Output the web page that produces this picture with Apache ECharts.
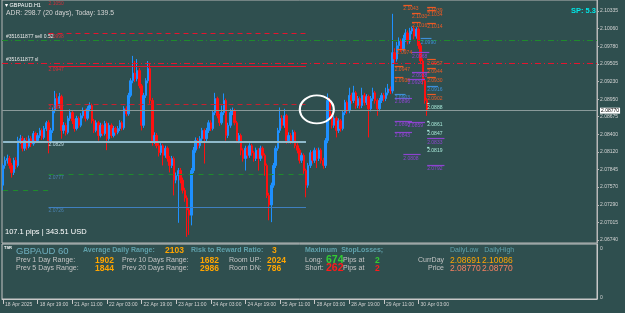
<!DOCTYPE html>
<html><head><meta charset="utf-8">
<script src="https://cdn.jsdelivr.net/npm/echarts@6/dist/echarts.min.js"></script>
<style>html,body{margin:0;padding:0;background:#2F4F4F;}#c{width:625px;height:313px;}</style>
</head><body><div id="c"></div>
<script>
// ---------- DATA ----------
const opens = [2.0760,2.0791,2.0799,2.0802,2.0791,2.0780,2.0799,2.0791,2.0830,2.0833,
2.0818,2.0830,2.0821,2.0833,2.0825,2.0841,2.0830,2.0838,2.0846,2.0835,
2.0849,2.0858,2.0830,2.0846,2.0877,2.0896,2.0885,2.0899,2.0846,2.0854,
2.0843,2.0865,2.0874,2.0861,2.0849,2.0865,2.0854,2.0869,2.0877,2.0865,
2.0880,2.0885,2.0861,2.0846,2.0858,2.0838,2.0854,2.0841,2.0857,2.0833,
2.0854,2.0838,2.0849,2.0843,2.0849,2.0858,2.0850,2.0880,2.0872,2.0901,
2.0924,2.0936,2.0927,2.0940,2.0916,2.0854,2.0901,2.0924,2.0943,2.0893,
2.0830,2.0838,2.0822,2.0811,2.0822,2.0807,2.0818,2.0802,2.0791,2.0802,
2.0768,2.0775,2.0783,2.0768,2.0752,2.0740,2.0721,2.0713,2.0783,2.0815,
2.0830,2.0822,2.0833,2.0846,2.0833,2.0846,2.0858,2.0849,2.0874,2.0896,
2.0869,2.0858,2.0874,2.0893,2.0838,2.0854,2.0874,2.0877,2.0858,2.0830,
2.0838,2.0815,2.0802,2.0818,2.0807,2.0822,2.0811,2.0802,2.0815,2.0802,
2.0818,2.0807,2.0791,2.0744,2.0729,2.0760,2.0791,2.0818,2.0846,2.0865,
2.0854,2.0869,2.0830,2.0838,2.0830,2.0843,2.0822,2.0815,2.0799,2.0807,
2.0783,2.0760,2.0791,2.0811,2.0799,2.0815,2.0802,2.0815,2.0799,2.0791,
2.0830,2.0893,2.0869,2.0854,2.0865,2.0846,2.0861,2.0849,2.0874,2.0890,
2.0877,2.0901,2.0893,2.0905,2.0885,2.0896,2.0885,2.0901,2.0890,2.0899,
2.0880,2.0896,2.0905,2.0893,2.0880,2.0893,2.0901,2.0896,2.0905,2.0911,
2.0908,2.0968,2.0958,2.0979,2.0986,2.0974,2.0990,2.0999,2.0986,2.1002,
2.1006,2.0994,2.1005,2.0979,2.0955,2.0924,2.0893];
const closes = [2.0791,2.0799,2.0802,2.0791,2.0780,2.0799,2.0791,2.0830,2.0833,2.0818,
2.0830,2.0821,2.0833,2.0825,2.0841,2.0830,2.0838,2.0846,2.0835,2.0849,
2.0858,2.0830,2.0846,2.0877,2.0896,2.0885,2.0899,2.0846,2.0854,2.0843,
2.0865,2.0874,2.0861,2.0849,2.0865,2.0854,2.0869,2.0877,2.0865,2.0880,
2.0885,2.0861,2.0846,2.0858,2.0838,2.0854,2.0841,2.0857,2.0833,2.0854,
2.0838,2.0849,2.0843,2.0849,2.0858,2.0850,2.0880,2.0872,2.0901,2.0924,
2.0936,2.0927,2.0940,2.0916,2.0854,2.0901,2.0924,2.0943,2.0893,2.0830,
2.0838,2.0822,2.0811,2.0822,2.0807,2.0818,2.0802,2.0791,2.0802,2.0768,
2.0775,2.0783,2.0768,2.0752,2.0740,2.0721,2.0713,2.0783,2.0815,2.0830,
2.0822,2.0833,2.0846,2.0833,2.0846,2.0858,2.0849,2.0874,2.0896,2.0869,
2.0858,2.0874,2.0893,2.0838,2.0854,2.0874,2.0877,2.0858,2.0830,2.0838,
2.0815,2.0802,2.0818,2.0807,2.0822,2.0811,2.0802,2.0815,2.0802,2.0818,
2.0807,2.0791,2.0744,2.0729,2.0760,2.0791,2.0818,2.0846,2.0865,2.0854,
2.0869,2.0830,2.0838,2.0830,2.0843,2.0822,2.0815,2.0799,2.0807,2.0783,
2.0760,2.0791,2.0811,2.0799,2.0815,2.0802,2.0815,2.0799,2.0791,2.0830,
2.0893,2.0869,2.0854,2.0865,2.0846,2.0861,2.0849,2.0874,2.0890,2.0877,
2.0901,2.0893,2.0905,2.0885,2.0896,2.0885,2.0901,2.0890,2.0899,2.0880,
2.0896,2.0905,2.0893,2.0880,2.0893,2.0901,2.0896,2.0905,2.0911,2.0908,
2.0968,2.0958,2.0979,2.0986,2.0974,2.0990,2.0999,2.0986,2.1002,2.1006,
2.0994,2.1005,2.0979,2.0955,2.0924,2.0893,2.0877];
const lows = [2.0752,2.0786,2.0794,2.0786,2.0772,2.0776,2.0785,2.0788,2.0825,2.0813,
2.0814,2.0815,2.0818,2.0820,2.0822,2.0826,2.0827,2.0834,2.0831,2.0832,
2.0845,2.0810,2.0826,2.0842,2.0873,2.0880,2.0881,2.0833,2.0841,2.0838,
2.0840,2.0861,2.0856,2.0844,2.0846,2.0850,2.0851,2.0865,2.0860,2.0862,
2.0876,2.0857,2.0842,2.0843,2.0830,2.0835,2.0837,2.0838,2.0815,2.0830,
2.0834,2.0835,2.0838,2.0840,2.0845,2.0846,2.0847,2.0868,2.0869,2.0898,
2.0920,2.0922,2.0923,2.0912,2.0846,2.0850,2.0897,2.0920,2.0888,2.0822,
2.0825,2.0818,2.0805,2.0807,2.0791,2.0803,2.0797,2.0780,2.0787,2.0744,
2.0763,2.0701,2.0763,2.0747,2.0734,2.0679,2.0682,2.0697,2.0779,2.0811,
2.0817,2.0818,2.0829,2.0794,2.0829,2.0842,2.0845,2.0846,2.0870,2.0865,
2.0853,2.0855,2.0870,2.0830,2.0834,2.0850,2.0870,2.0854,2.0826,2.0826,
2.0807,2.0797,2.0783,2.0802,2.0803,2.0806,2.0797,2.0798,2.0783,2.0798,
2.0802,2.0775,2.0740,2.0705,2.0702,2.0756,2.0787,2.0814,2.0842,2.0849,
2.0850,2.0825,2.0826,2.0825,2.0826,2.0818,2.0810,2.0794,2.0795,2.0778,
2.0741,2.0756,2.0787,2.0794,2.0795,2.0787,2.0798,2.0794,2.0786,2.0787,
2.0826,2.0864,2.0849,2.0850,2.0835,2.0842,2.0844,2.0846,2.0870,2.0872,
2.0873,2.0888,2.0889,2.0880,2.0881,2.0880,2.0881,2.0885,2.0886,2.0835,
2.0876,2.0892,2.0888,2.0869,2.0876,2.0889,2.0891,2.0892,2.0901,2.0903,
2.0904,2.0952,2.0954,2.0974,2.0969,2.0970,2.0985,2.0981,2.0982,2.0997,
2.0989,2.0990,2.0974,2.0950,2.0918,2.0888,2.0869];
const highs = [2.0794,2.0805,2.0808,2.0806,2.0795,2.0803,2.0804,2.0836,2.0839,2.0837,
2.0834,2.0835,2.0838,2.0837,2.0845,2.0844,2.0842,2.0850,2.0849,2.0853,
2.0861,2.0862,2.0850,2.0882,2.0908,2.0904,2.0905,2.0902,2.0859,2.0858,
2.0869,2.0879,2.0877,2.0864,2.0869,2.0868,2.0873,2.0882,2.0880,2.0884,
2.0890,2.0888,2.0864,2.0862,2.0861,2.0858,2.0857,2.0861,2.0860,2.0858,
2.0857,2.0853,2.0852,2.0853,2.0862,2.0861,2.0884,2.0884,2.0905,2.0928,
2.0963,2.0955,2.0958,2.0944,2.0919,2.0905,2.0928,2.0955,2.0951,2.0897,
2.0843,2.0842,2.0826,2.0826,2.0825,2.0822,2.0821,2.0806,2.0806,2.0805,
2.0780,2.0787,2.0787,2.0772,2.0756,2.0744,2.0725,2.0787,2.0820,2.0835,
2.0834,2.0837,2.0850,2.0849,2.0850,2.0862,2.0862,2.0878,2.0905,2.0899,
2.0872,2.0885,2.0904,2.0896,2.0858,2.0880,2.0882,2.0880,2.0861,2.0842,
2.0841,2.0818,2.0822,2.0821,2.0826,2.0825,2.0814,2.0819,2.0818,2.0822,
2.0821,2.0810,2.0794,2.0748,2.0764,2.0795,2.0822,2.0850,2.0882,2.0870,
2.0880,2.0872,2.0843,2.0842,2.0847,2.0846,2.0826,2.0818,2.0811,2.0810,
2.0786,2.0795,2.0815,2.0814,2.0819,2.0818,2.0819,2.0818,2.0803,2.0834,
2.0904,2.0897,2.0872,2.0869,2.0868,2.0865,2.0864,2.0878,2.0894,2.0893,
2.0913,2.0905,2.0916,2.0908,2.0900,2.0899,2.0913,2.0905,2.0903,2.0902,
2.0900,2.0913,2.0908,2.0896,2.0897,2.0905,2.0905,2.0913,2.0919,2.0915,
2.1029,2.0975,2.0985,2.0992,2.0990,2.0996,2.1005,2.1003,2.1007,2.1009,
2.1009,2.1008,2.1008,2.0983,2.0959,2.0928,2.0897];
const futureBars = 78;                 // empty bars (chart shift) to the right
const timeTickBars = [0,16,32,48,64,80,96,112,128,144,160,176,192];
const timeTickLabels = ["18 Apr 2025","18 Apr 19:00","21 Apr 11:00","22 Apr 03:00","22 Apr 19:00","23 Apr 11:00","24 Apr 03:00","24 Apr 19:00","25 Apr 11:00","28 Apr 03:00","28 Apr 19:00","29 Apr 11:00","30 Apr 03:00"];
const priceTicks = [2.10335,2.10060,2.09780,2.09505,2.09230,2.08950,2.08675,2.08400,2.08120,2.07845,2.07570,2.07290,2.07015,2.06740];
const bidPrice = 2.08770;
// weekly levels: R3, R2, R1, PP, S1, S2, S3
const week1Levels = [2.1050, 2.0998, 2.0947, 2.0887, 2.0829, 2.0777, 2.0726];
const week2Levels = [null, 2.1024, 2.0949, 2.0880, 2.0815, 2.0741, null];
const prevWeekS2 = 2.0752;
const weekStarts = [20.5, 139.5];
const orderPrice = 2.0988, orderLabel = "#351611877 sell 0.52";
const slPrice = 2.0952, slLabel = "#351611877 sl";
// small level markers (bar, price, kind)
const markerBars   = [185,196,189,196,189,196,182,196,181,196,181,196,196, 193,181,196, 189,189,187,181,181,187,181,185,196,196, 196,196,196,196];
const markerPrices = [2.1043,2.1039,2.1030,2.1034,2.1016,2.1014,2.0974,2.0957,2.0947,2.0944,2.0930,2.0930,2.0902, 2.0990,2.0903,2.0916, 2.0968,2.0938,2.0926,2.0896,2.0860,2.0859,2.0843,2.0808,2.0833,2.0792, 2.0888,2.0861,2.0847,2.0819];
const markerKinds  = ['o','o','o','o','o','o','o','o','o','o','o','o','o', 'b','b','b', 'p','p','p','p','p','p','p','p','p','p', 'a','a','a','a'];
const circledBar = 144.5, circledPrice = 2.0879;
const adrText = "ADR: 298.7 (20 days), Today: 139.5";
const symbolText = "GBPAUD.H1";
const spreadText = "SP: 5.3";
const pipsText = "107.1 pips | 343.51 USD";
const rangeNames = ["Prev 1 Day Range:", "Prev 5 Days Range:", "Prev 10 Days Range:", "Prev 20 Days Range:"];
const rangeValues = [1902, 1844, 1682, 2986];
const adrValue = 2103, rrValue = 3, roomUp = 2024, roomDn = 786;
const slLong = 674, slShort = 262, slLongAt = 2, slShortAt = 2;
const dayLow = "2.08691", dayHigh = "2.10086", priceLow = "2.08770", priceHigh = "2.08770";

// ---------- BUILD ----------
const nBars = opens.length;
const cats = [];
for (let i = 0; i < nBars + futureBars; i++) cats.push('b' + i);
const candles = cats.map((c, i) => i < nBars ? [opens[i], closes[i], lows[i], highs[i]] : '-');
const tickMap = {}; timeTickBars.forEach((b, k) => tickMap[b] = timeTickLabels[k]);
const isTick = (idx) => tickMap[idx] !== undefined;
const lastEdge = nBars + futureBars - 0.5;

const FONT = 'Liberation Sans, Arial, sans-serif';
const RED = '#E5142E', GREEN = '#1F8B2C', LBLUE = '#8FBACB', SBLUE = '#3F7FBF';
const levelStyles = [
  {color: 'rgba(229,20,46,0)', type: 'solid', width: 1, lab: '#D0303A'},   // R3 lies on the top edge (off view)
  {color: RED, type: [5, 4], width: 1, lab: '#D0303A'},
  {color: RED, type: 'solid', width: 1.2, lab: '#D0303A'},
  {color: '#C8202E', type: [5, 4], width: 1, lab: '#D0303A'},
  {color: LBLUE, type: 'solid', width: 2, lab: '#B8D4DC'},
  {color: GREEN, type: [5, 5], width: 1, lab: '#4A82B0'},
  {color: SBLUE, type: 'solid', width: 1.2, lab: '#4A82B0'}
];
const markerColors = {o: '#EE5A24', p: '#8E44D0', b: '#3D8FD9', a: '#A8E8D8'};
const markerLen = {o: 4, p: 8, b: 5, a: 1};

function seg(p, a, b, st, txt, labColor, pos) {
  return [{coord: [a, p], lineStyle: {color: st.color, type: st.type, width: st.width},
    label: txt ? {show: true, formatter: txt, position: pos || 'insideStartBottom', color: labColor, fontSize: 5, fontFamily: FONT, distance: [0, 1]} : {show: false}},
    {coord: [b, p]}];
}
const mlData = [];
mlData.push(seg(week1Levels[4], -0.5, weekStarts[0], levelStyles[4], null));
mlData.push(seg(prevWeekS2, -0.5, weekStarts[0], levelStyles[5], null));
week1Levels.forEach((p, k) => { if (p != null) mlData.push(seg(p, weekStarts[0], weekStarts[1], levelStyles[k], p.toFixed(4), levelStyles[k].lab)); });
week2Levels.forEach((p, k) => { if (p != null) mlData.push(seg(p, weekStarts[1], lastEdge, levelStyles[k], p.toFixed(4), levelStyles[k].lab)); });
mlData.push({yAxis: orderPrice, lineStyle: {color: GREEN, type: [6, 3, 1, 3], width: 1},
  label: {show: true, formatter: orderLabel, position: 'insideStartTop', color: '#E8E8E8', fontSize: 5, fontFamily: FONT, distance: [4, 1]}});
mlData.push({yAxis: slPrice, lineStyle: {color: RED, type: [6, 3, 1, 3], width: 1},
  label: {show: true, formatter: slLabel, position: 'insideStartTop', color: '#E8E8E8', fontSize: 5, fontFamily: FONT, distance: [4, 1]}});
mlData.push({yAxis: bidPrice, lineStyle: {color: '#8A9A9A', type: 'solid', width: 1},
  label: {show: true, formatter: bidPrice.toFixed(5), position: 'end', color: '#000', backgroundColor: '#FFFFFF', fontSize: 5, fontFamily: FONT, padding: [1, 1, 0, 1], distance: 3}});
markerBars.forEach((b, k) => {
  const kind = markerKinds[k];
  mlData.push(seg(markerPrices[k], b - 0.5, b - 0.5 + markerLen[kind], {color: markerColors[kind], type: 'solid', width: 1.2},
    markerPrices[k].toFixed(4), markerColors[kind]));
});

const gTexts = [];
function T(text, x, y, size, color, weight) {
  gTexts.push({type: 'text', x: x, y: y, silent: true, z: 100,
    style: {text: String(text), fill: color, font: (weight || 'normal') + ' ' + size + 'px ' + FONT, textVerticalAlign: 'top'}});
}
const CAD = '#5FA0AA', GRY = '#C4C4C4', ORG = '#FFA500', SAL = '#F88060';
T('\u25BE ' + symbolText, 5, 2, 5.5, '#FFFFFF');
T(adrText, 6, 10, 6.8, '#D4D4D4');
T(spreadText, 571, 7, 7.5, '#00E8E8', 'bold');
T(pipsText, 5, 228, 7.5, '#FFFFFF');
T('TSR', 4, 246, 4, '#FFFFFF', 'bold');
T('GBPAUD 60', 16, 246, 9.5, '#6FAFBF');
T('Average Daily Range:', 83, 247, 7, CAD, 'bold');
T(adrValue, 165, 246.5, 8.5, ORG, 'bold');
T('Risk to Reward Ratio:', 191, 247, 7, CAD, 'bold');
T(rrValue, 272, 246.5, 8.5, ORG, 'bold');
T('Maximum  StopLosses;', 305, 247, 7, CAD, 'bold');
T('DailyLow   DailyHigh', 450, 247, 7, CAD);
T(rangeNames[0], 16, 257, 7, GRY);
T(rangeValues[0], 95, 256, 8.5, ORG, 'bold');
T(rangeNames[2], 122, 257, 7, GRY);
T(rangeValues[2], 200, 256, 8.5, ORG, 'bold');
T('Room UP:', 229, 257, 7, GRY);
T(roomUp, 267, 256, 8.5, ORG, 'bold');
T(rangeNames[1], 16, 265, 7, GRY);
T(rangeValues[1], 95, 264.5, 8.5, ORG, 'bold');
T(rangeNames[3], 122, 265, 7, GRY);
T(rangeValues[3], 200, 264.5, 8.5, ORG, 'bold');
T('Room DN:', 229, 265, 7, GRY);
T(roomDn, 267, 264.5, 8.5, ORG, 'bold');
T('Long:', 305, 257, 7, GRY);
T(slLong, 326, 254.5, 10.5, '#33CC33', 'bold');
T('Pips at', 343, 257, 7, GRY);
T(slLongAt, 375, 256, 8.5, '#33CC33', 'bold');
T('Short:', 305, 265, 7, GRY);
T(slShort, 326, 263, 10.5, '#FF1A1A', 'bold');
T('Pips at', 343, 265, 7, GRY);
T(slShortAt, 375, 264.5, 8.5, '#FF1A1A', 'bold');
T('CurrDay', 418, 257, 7, GRY);
T(dayLow, 450, 256, 8.5, ORG);
T(dayHigh, 482, 256, 8.5, ORG);
T('Price', 428, 265, 7, GRY);
T(priceLow, 450, 264.5, 8.5, SAL);
T(priceHigh, 482, 264.5, 8.5, SAL);

const chart = echarts.init(document.getElementById('c'), null, {renderer: 'canvas', width: 625, height: 313});
const option = {
  animation: false,
  backgroundColor: '#2F4F4F',
  textStyle: {fontFamily: FONT},
  grid: [
    {left: 2, right: 28, top: -1, height: 244, show: true, borderColor: '#B8B8B8', borderWidth: 1},
    {left: 2, right: 28, top: 244, height: 55, show: true, borderColor: '#C8C8C8', borderWidth: 1}
  ],
  xAxis: [
    {type: 'category', gridIndex: 0, data: cats, boundaryGap: true, axisLine: {show: false}, axisTick: {show: false}, axisLabel: {show: false}, splitLine: {show: false}},
    {type: 'category', gridIndex: 1, data: cats, boundaryGap: true, position: 'bottom',
      axisLine: {show: true, lineStyle: {color: '#C8C8C8'}},
      axisTick: {show: true, interval: isTick, alignWithLabel: true, length: 5, lineStyle: {color: '#C8C8C8'}},
      axisLabel: {show: true, interval: isTick, formatter: (v, i) => tickMap[i] || '', color: '#D0D0D0', fontSize: 5, fontFamily: FONT, align: 'left', margin: 3, padding: [0, 0, 0, 2]},
      splitLine: {show: false}}
  ],
  yAxis: [
    {type: 'value', gridIndex: 0, min: 2.06693, max: 2.10507, position: 'right',
      axisLine: {show: true, lineStyle: {color: '#B8B8B8'}},
      axisTick: {show: true, customValues: priceTicks, length: 2, lineStyle: {color: '#B8B8B8'}},
      axisLabel: {show: true, customValues: priceTicks, formatter: v => v.toFixed(5), color: '#D4D4D4', fontSize: 5, fontFamily: FONT, margin: 3},
      splitLine: {show: false}},
    {type: 'value', gridIndex: 1, min: 0, max: 1, position: 'right',
      axisLine: {show: true, lineStyle: {color: '#C8C8C8'}},
      axisTick: {show: false},
      axisLabel: {show: true, customValues: [0.03, 0.92], formatter: () => '0', color: '#D4D4D4', fontSize: 5, fontFamily: FONT, margin: 3},
      splitLine: {show: false}}
  ],
  series: [
    {type: 'candlestick', xAxisIndex: 0, yAxisIndex: 0, data: candles, barWidth: 2, clip: false,
      itemStyle: {color: '#1E90FF', color0: '#FF1010', borderColor: '#1E90FF', borderColor0: '#FF1010', borderWidth: 1},
      markLine: {silent: true, precision: 5, symbol: ['none', 'none'], animation: false, data: mlData},
      markPoint: {silent: true, animation: false, data: [{coord: [circledBar, circledPrice], symbol: 'circle', symbolSize: [34, 28],
        itemStyle: {color: 'rgba(0,0,0,0)', borderColor: '#FFFFFF', borderWidth: 2}, label: {show: false}}]}},
    {type: 'line', xAxisIndex: 1, yAxisIndex: 1, data: [], showSymbol: false}
  ],
  graphic: gTexts
};
chart.setOption(option);
</script>
</body></html>
